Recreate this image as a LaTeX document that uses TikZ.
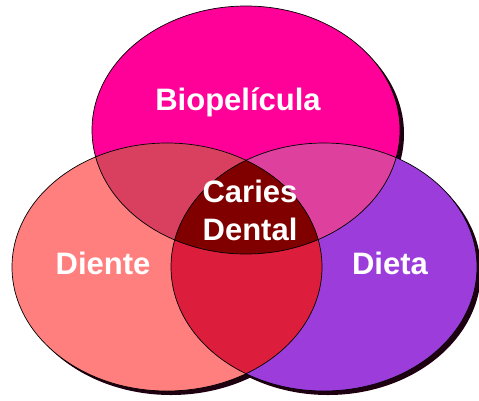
\documentclass[tikz,border=0pt]{standalone}
\usepackage{fontspec}
\setmainfont{Liberation Sans}
\usepackage{tikz}
\usetikzlibrary{positioning}
\definecolor{biocol}{HTML}{FF0099}
\definecolor{dientecol}{HTML}{FF7F7F}
\definecolor{dietacol}{HTML}{9B3CDB}
\definecolor{biodientecol}{HTML}{D94060}
\definecolor{biodietacol}{HTML}{DE409E}
\definecolor{dientedietacol}{HTML}{DC1E3C}
\definecolor{cariescol}{HTML}{800000}
\definecolor{shadowcol}{HTML}{1E0010}
\tikzset{
  settext/.style={text=white, font=\bfseries\fontsize{31}{38}\selectfont, align=center, inner sep=0pt},
}

\begin{document}
\begin{tikzpicture}[x=1pt, y=-1pt,
  ring/.style={draw=black, line width=0.7pt},
  shadowed/.style={fill=shadowcol, shift={(4,4)}}
]
  \useasboundingbox (0,0) rectangle (479,400);
  \def\bioset{(246,130) ellipse [x radius=154pt, y radius=124pt]}
  \def\dienteset{(167,267) ellipse [x radius=155pt, y radius=124pt]}
  \def\dietaset{(324,267) ellipse [x radius=153pt, y radius=124pt]}
  \fill[shadowed] \bioset;
  \fill[shadowed] \dienteset;
  \fill[shadowed] \dietaset;
  \fill[biocol] \bioset;
  \fill[dientecol] \dienteset;
  \fill[dietacol] \dietaset;
  \begin{scope}
    \clip \bioset;
    \fill[biodientecol] \dienteset;
    \fill[biodietacol] \dietaset;
  \end{scope}
  \begin{scope}
    \clip \dienteset;
    \fill[dientedietacol] \dietaset;
    \clip \dietaset;
    \fill[cariescol] \bioset;
  \end{scope}
  \draw[ring] \bioset;
  \draw[ring] \dienteset;
  \draw[ring] \dietaset;
  \node[settext, anchor=base] (bio) at (238,110) {Biopelícula};
  \node[settext] (caries) at (250,210) {Caries\\Dental};
  \node[settext, anchor=base] (diente) at (103,274) {Diente};
  \node[settext, anchor=base] (dieta) at (390,274) {Dieta};
\end{tikzpicture}
\end{document}
